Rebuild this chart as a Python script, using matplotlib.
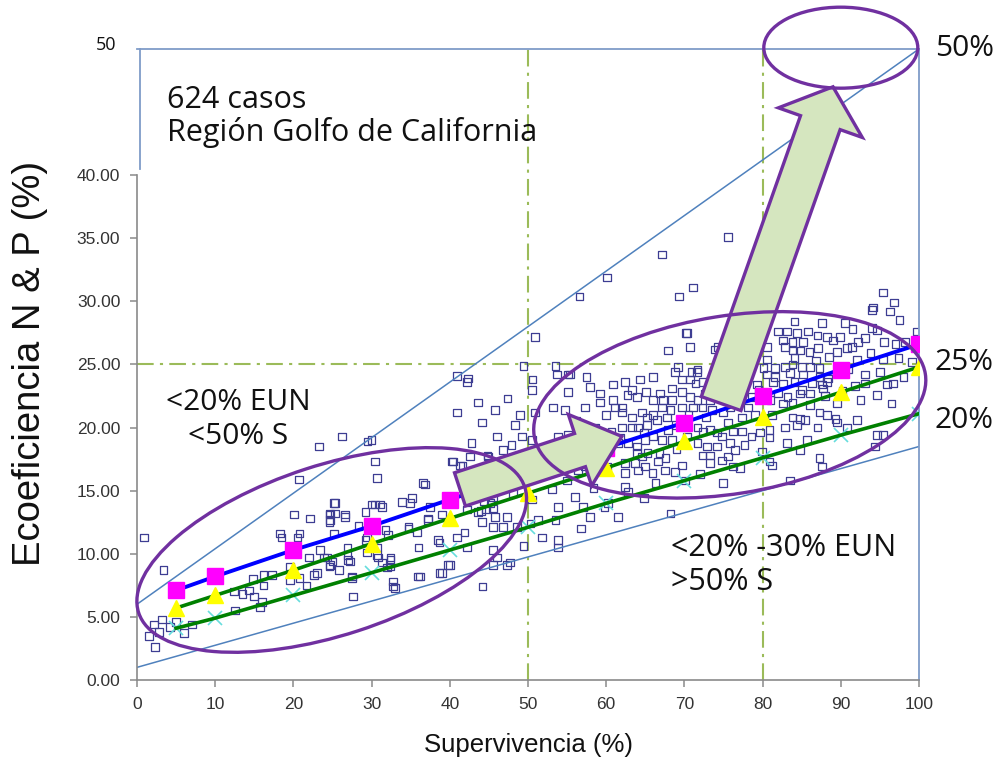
import matplotlib
matplotlib.use("Agg")
import matplotlib.pyplot as plt
import numpy as np
from matplotlib.patches import Ellipse, Polygon
from matplotlib.transforms import IdentityTransform

# ---------------- data ----------------
scatter_pts = [
    # x 0-27
    (0.9,11.3),(3.4,8.7),(2.2,4.4),(3.2,4.8),(4.2,4.2),(2.8,3.8),(6.0,3.7),(7.0,4.4),(2.3,2.6),(1.5,3.5),(5.0,4.6),
    (12.4,7.0),(12.5,5.5),(14.3,7.1),(15.0,6.6),(16.0,6.2),(15.7,5.8),(16.2,8.3),(17.3,8.3),(16.2,7.5),(19.6,7.9),
    (19.6,9.0),(20.1,13.1),(22.1,12.8),(24.6,13.1),(24.6,12.5),(25.2,14.0),(18.3,11.6),(18.5,11.3),(20.8,11.6),
    (20.5,11.3),(22.0,9.7),(23.0,8.5),(22.6,8.3),(21.7,7.5),(24.6,9.0),(23.9,9.7),(20.8,8.1),(25.2,11.6),(23.3,18.5),
    (20.7,15.9),(23.4,10.3),(24.3,9.7),(24.7,9.1),(24.7,12.7),(24.7,13.2),(13.5,6.8),(14.8,8.0),
    # x 25-50
    (26.6,13.1),(26.9,10.5),(27.0,9.5),(27.5,8.2),(27.6,6.6),(29.2,13.3),(29.4,11.3),(29.4,10.1),(30.0,13.9),
    (30.4,17.3),(30.7,16.0),(31.1,13.9),(30.8,9.7),(32.4,9.7),(32.0,8.9),(32.7,7.8),(32.7,7.4),(33.9,14.1),
    (35.2,14.4),(34.7,12.0),(35.8,11.7),(36.2,8.2),(36.6,15.6),(37.2,12.8),(39.0,13.1),(38.5,11.1),(38.7,8.5),
    (40.0,9.1),(40.4,17.3),(41.3,17.0),(40.9,11.3),(41.9,11.7),(42.2,10.5),(42.6,17.7),(44.9,17.7),(45.5,14.5),
    (44.4,14.2),(44.0,13.4),(44.6,13.5),(45.2,14.0),(45.5,10.3),(45.5,9.1),
    (42.2,23.6),(43.6,22.0),(47.4,22.3),(40.9,21.2),(45.8,21.4),(49.0,21.0),(44.1,20.4),(48.3,20.2),(26.2,19.3),
    (29.5,18.9),(30.0,19.0),(46.0,19.3),(42.8,18.8),(46.8,18.2),(47.9,18.6),(49.2,19.3),(44.8,17.8),(40.3,17.3),
    (41.6,17.0),(36.8,15.5),(42.2,16.1),(43.5,16.0),(45.8,16.2),(47.1,15.8),(43.2,15.5),(48.1,14.8),(34.9,14.0),
    (30.4,13.9),(31.3,13.7),(25.3,14.0),(25.3,13.2),(26.6,12.9),(37.5,13.7),(42.2,13.5),(43.6,13.3),(45.5,13.6),
    (45.8,12.9),(44.1,12.5),(47.3,12.9),(45.5,12.1),(46.8,12.1),(34.7,12.1),(37.2,12.7),(32.1,11.5),(29.2,11.1),
    (30.7,10.5),(38.7,10.9),(26.9,9.9),(27.2,9.4),(25.0,9.4),(30.7,9.9),(31.3,9.3),(32.4,9.5),(32.4,9.0),
    (39.8,9.1),(39.0,8.5),(46.0,9.7),(47.3,9.1),(33.0,7.3),(35.9,8.2),(27.5,8.1),(25.8,8.7),(44.2,7.4),(47.7,9.3),
    (40.9,24.1),(42.3,23.9),(49.4,24.9),(50.9,27.2),(31.8,11.9),(28.3,12.2),(36.0,10.5),(48.6,12.1),(49.4,10.6),
    (48.3,16.8),(49.5,17.6),
    # x 50-75
    (67.9,26.1),(70.7,26.4),(70.3,27.5),(74.3,26.4),(69.2,24.8),(70.9,24.4),(71.7,24.6),(69.7,23.8),(70.7,23.8),
    (71.4,23.5),(72.4,23.6),(73.7,24.0),(74.2,23.4),(68.4,23.1),(66.9,22.7),(67.3,22.2),(68.4,22.2),(69.7,22.8),
    (70.7,22.4),(71.7,22.2),(72.6,22.7),(73.3,22.2),(67.1,21.6),(68.2,21.4),(69.7,21.6),(71.1,21.6),(72.3,21.6),
    (73.5,21.4),(66.0,24.0),(64.3,23.8),(62.4,23.6),(60.9,23.4),(57.9,23.2),(57.5,24.0),(55.1,24.2),(53.7,24.2),
    (50.6,23.8),(50.5,23.0),(59.2,22.7),(60.9,22.2),(62.7,22.6),(63.3,23.0),(63.9,22.4),(55.1,22.8),(59.2,22.0),
    (57.3,21.6),(54.7,21.4),(53.2,21.6),(61.1,21.6),(62.0,21.6),(62.0,21.2),(63.3,20.8),(64.6,21.2),(65.2,20.8),
    (66.0,21.0),(66.5,20.6),(67.8,20.8),(65.2,20.2),(64.1,20.0),(63.3,20.0),(62.0,20.0),(58.6,20.0),(60.7,19.7),
    (53.8,19.3),(55.1,19.4),(50.5,19.0),(61.5,18.8),(62.8,18.8),(63.9,18.5),(65.0,19.0),(66.0,19.3),(67.1,19.0),
    (67.9,19.8),(68.4,19.0),(71.7,20.0),(72.4,19.7),(73.3,19.8),(74.2,19.6),(71.7,18.8),(72.9,18.5),(74.2,18.5),
    (72.3,17.8),(73.3,17.8),(73.3,17.2),(74.8,17.4),(63.9,18.0),(64.6,17.7),(65.3,18.0),(66.6,17.3),(63.7,17.2),
    (62.4,17.2),(64.1,16.6),(65.0,16.9),(65.9,16.4),(67.5,16.6),(68.8,16.5),(69.7,17.0),(62.4,16.4),(60.1,16.9),
    (58.2,16.4),(56.4,16.6),(55.1,17.8),(54.1,17.7),(52.2,17.6),(54.5,16.9),(62.4,15.3),(62.8,14.9),(53.1,15.1),
    (50.5,14.3),(53.8,13.7),(56.0,14.5),(57.0,13.7),(60.2,14.0),(57.9,12.9),(59.8,13.7),(53.5,12.7),(51.3,12.7),
    (51.8,11.3),(53.8,11.1),(53.8,10.5),(50.3,12.4),(68.2,13.2),(70.1,15.8),(50.9,21.2),(51.5,17.4),(54.1,18.1),
    (55.6,17.7),(57.3,16.9),
    (75.6,35.1),(67.1,33.7),(71.1,31.1),(69.3,30.4),(60.1,31.9),(56.6,30.4),(70.2,27.5),(73.9,26.2),(74.6,25.6),
    (68.8,24.4),(71.6,24.4),(53.5,24.9),(55.4,24.2),
    (58.0,18.5),(59.5,18.2),(57.0,19.6),(60.0,21.0),(56.2,20.5),(61.8,19.2),(64.8,19.6),(66.8,18.0),(68.9,20.2),
    (70.3,19.3),(70.5,21.0),(72.8,20.8),(74.0,22.7),(69.0,18.3),(67.6,17.6),(66.0,22.2),(65.1,22.8),(58.4,15.2),
    (55.0,15.8),(56.8,12.0),(61.5,12.9),(64.8,14.4),(66.3,15.6),(72.0,16.3),
    # x 75-100
    (95.4,30.7),(94.0,29.3),(96.3,29.2),(84.1,28.4),(87.6,28.3),(82.0,27.6),(83.1,27.6),(84.4,27.5),(85.8,27.6),
    (87.0,27.3),(88.2,27.2),(89.9,27.2),(94.6,27.7),(94.0,27.9),(99.7,27.6),(93.1,27.1),(92.2,26.8),(82.6,26.9),
    (83.8,26.8),(85.2,26.8),(89.0,26.9),(87.1,26.3),(89.5,26.0),(90.8,26.3),(82.9,26.4),(83.9,26.1),(84.8,26.1),
    (80.6,26.4),(77.1,26.3),(76.7,27.1),(78.1,26.0),(74.8,25.6),(80.6,25.4),(84.1,25.5),(92.1,25.4),(95.4,25.4),
    (99.1,25.2),(76.2,24.4),(78.0,24.7),(80.1,24.7),(81.6,24.7),(82.9,24.8),(83.8,25.0),(85.0,24.8),(86.1,24.8),
    (87.3,24.7),(74.9,24.0),(80.6,24.2),(81.6,24.0),(83.5,24.3),(85.2,24.2),(87.3,24.0),(88.4,23.9),(93.1,24.2),
    (95.0,24.4),(75.2,23.4),(76.7,23.2),(79.3,23.4),(81.3,23.6),(82.6,23.5),(84.1,23.6),(86.3,23.5),(87.6,23.4),
    (88.2,23.6),(93.1,23.5),(95.9,23.4),(96.7,23.5),(77.4,22.7),(78.6,22.4),(82.0,22.7),(83.2,22.4),(84.8,22.7),
    (86.1,22.7),(87.7,23.1),(94.6,22.6),(96.5,21.9),(75.2,22.4),(75.8,21.6),(78.1,21.6),(82.6,21.9),(83.8,22.0),
    (86.1,21.8),(74.9,21.2),(77.4,20.8),(79.0,21.0),(81.2,21.0),(83.8,20.8),(84.8,20.7),(87.3,21.2),(88.2,21.0),
    (89.3,20.7),(89.5,20.4),(92.1,20.6),(90.8,20.0),(87.0,20.0),(85.4,20.6),(84.4,20.2),(82.9,20.0),(75.6,20.4),
    (76.2,19.7),(77.4,19.7),(78.6,19.3),(79.7,19.6),(80.9,19.8),(80.9,19.2),(74.8,19.3),(75.8,18.8),(76.5,18.2),
    (77.7,18.6),(79.9,18.1),(83.1,18.8),(85.7,19.0),(75.6,17.7),(76.2,16.9),(77.1,16.8),(80.9,17.3),(81.2,17.0),
    (87.3,17.6),(87.6,16.9),(84.8,18.2),(94.4,18.5),(94.6,19.4),(95.4,19.4),(83.5,15.8),(74.9,15.6),(94.1,29.5),
    (76.9,26.4),(78.0,25.8),(79.0,25.8),(96.8,29.9),(97.5,28.5),(98.2,26.8),(91.5,27.8),(90.5,28.3),(86.0,26.0),
    (88.5,25.6),(91.0,24.6),(92.5,22.2),(90.2,22.9),(89.5,21.9),(98.0,24.0),(97.0,26.6),(91.4,26.4),(80.0,27.8),
    (79.5,23.0),(81.0,22.2),(85.0,23.0),(86.8,25.3),(88.0,22.5),(91.8,23.3),(93.8,25.9),(95.5,26.8),(97.4,25.5),
]
scatter_x = [p[0] for p in scatter_pts]
scatter_y = [p[1] for p in scatter_pts]

class_x = [5, 10, 20, 30, 40, 50, 60, 70, 80, 90, 100]
magenta_y = [7.1, 8.2, 10.3, 12.2, 14.3, 16.3, 18.4, 20.4, 22.5, 24.6, 26.6]
yellow_y = [5.7, 6.7, 8.7, 10.8, 12.8, 14.8, 16.8, 18.9, 20.8, 22.8, 24.8]
cyan_y = [4.1, 4.9, 6.7, 8.5, 10.3, 12.1, 14.0, 15.8, 17.6, 19.4, 21.1]

upper_ref_x = [0, 100]; upper_ref_y = [6.0, 50.0]
lower_ref_x = [0, 100]; lower_ref_y = [1.0, 18.5]

yticks = [0, 5, 10, 15, 20, 25, 30, 35, 40]
xticks = [0, 10, 20, 30, 40, 50, 60, 70, 80, 90, 100]

# ---------------- figure ----------------
fig = plt.figure(figsize=(10, 7.66), dpi=100)
ax = fig.add_axes([0.137, 0.1123, 0.782, 0.8238])
ax.set_xlim(0, 100)
ax.set_ylim(0, 50)

PURPLE = "#7030a0"
FRAME_BLUE = "#7f9cc8"
GUIDE_GREEN = "#9bbb59"

# reference guide lines
ax.plot([50, 50], [0, 50], color=GUIDE_GREEN, lw=1.5, ls=(0, (8, 3, 1.5, 3)), zorder=1.8)
ax.plot([80, 80], [0, 50], color=GUIDE_GREEN, lw=1.5, ls=(0, (8, 3, 1.5, 3)), zorder=1.8)
ax.plot([0, 100], [25, 25], color=GUIDE_GREEN, lw=1.5, ls=(0, (8, 3, 1.5, 3)), zorder=1.8)

# scatter
ax.scatter(scatter_x, scatter_y, marker="s", s=30, facecolors="none",
           edgecolors="#3d3d92", linewidths=0.9, zorder=2.2)

# thin reference lines
ax.plot(upper_ref_x, upper_ref_y, color="#4f81bd", lw=1.1, zorder=2.5)
ax.plot(lower_ref_x, lower_ref_y, color="#4f81bd", lw=1.1, zorder=2.5)

# trend series
ax.plot(class_x, cyan_y, ls="none", marker="x", ms=10, mew=1.2, color="#66dddd", zorder=3.8)
ax.plot(class_x, cyan_y, color="#008000", lw=2.6, zorder=4)
ax.plot(class_x, yellow_y, color="#008000", lw=2.6, zorder=4)
ax.plot(class_x, yellow_y, ls="none", marker="^", ms=12, color="#ffff00", mec="#ffff00", zorder=5)
ax.plot(class_x, magenta_y, color="#0000ff", lw=2.8, zorder=4.2)
ax.plot(class_x, magenta_y, ls="none", marker="s", ms=11, color="#ff00ff", mec="#ff00ff", zorder=5.2)

# axes styling
for s in ("left", "bottom"):
    ax.spines[s].set_color("#8a8a8a")
    ax.spines[s].set_linewidth(1.2)
ax.spines["left"].set_bounds(0, 40)
for s in ("top", "right"):
    ax.spines[s].set_color(FRAME_BLUE)
    ax.spines[s].set_linewidth(1.3)
ax.plot([0.4, 0.4], [40.5, 50], color=FRAME_BLUE, lw=1.3, zorder=3, clip_on=False)

ax.set_yticks(yticks)
ax.set_yticklabels([f"{v:.2f}" for v in yticks])
ax.set_xticks(xticks)
ax.set_xticklabels([str(v) for v in xticks])
ax.tick_params(axis="both", direction="out", length=5, width=1.1, color="#8a8a8a",
               labelsize=12.5, labelcolor="#333333", pad=7)
for lab in ax.get_xticklabels() + ax.get_yticklabels():
    lab.set_fontfamily("Liberation Sans")

# ---------------- annotation shapes (display space) ----------------
def disp(pt):
    return ax.transData.transform(pt)

def add_ellipse(center, w, h, angle):
    e = Ellipse(disp(center), w, h, angle=angle, transform=IdentityTransform(),
                facecolor="none", edgecolor=PURPLE, lw=2.4, zorder=6)
    fig.add_artist(e)

add_ellipse((24.9, 10.3), 406, 170, 18)
add_ellipse((75.8, 21.8), 396, 178, 9)
add_ellipse((90.0, 50.1), 154, 81, 0)

def add_arrow(p0, p1, shaft_w, head_w, head_len):
    d0 = disp(p0); d1 = disp(p1)
    v = d1 - d0
    u = v / np.hypot(*v)
    n = np.array([-u[1], u[0]])
    hb = d1 - u * head_len
    pts = [d0 + n * shaft_w / 2, hb + n * shaft_w / 2, hb + n * head_w / 2, d1,
           hb - n * head_w / 2, hb - n * shaft_w / 2, d0 - n * shaft_w / 2]
    fill = Polygon(pts, closed=True, transform=IdentityTransform(),
                   facecolor="#d5e6bf", edgecolor="none", zorder=1.5)
    edge = Polygon(pts, closed=True, transform=IdentityTransform(),
                   facecolor="none", edgecolor=PURPLE, lw=2.4, joinstyle="miter", zorder=6)
    fig.add_artist(fill)
    fig.add_artist(edge)

add_arrow((41.3, 15.1), (62.0, 19.3), 35, 75, 44)
add_arrow((74.7, 21.9), (89.0, 47.0), 42, 89, 38)

# ---------------- texts ----------------
def ftext(px, py, s, **kw):
    fig.text(px / 1000, 1 - py / 766, s, **kw)

TXT = dict(family=["Open Sans", "DejaVu Sans"], color="#111111")
ftext(167, 100, "624 casos", fontsize=22, ha="left", va="center", **TXT)
ftext(167, 133, "Región Golfo de California", fontsize=22, ha="left", va="center", **TXT)
ftext(116, 45, "50", fontsize=13, ha="right", va="center", **TXT)
ftext(935, 48, "50%", fontsize=21.5, ha="left", va="center", **TXT)
ftext(935, 362, "25%", fontsize=21.5, ha="left", va="center", **TXT)
ftext(935, 420, "20%", fontsize=21.5, ha="left", va="center", **TXT)
ftext(238, 403, "<20% EUN", fontsize=21.5, ha="center", va="center", **TXT)
ftext(238, 437, "<50% S", fontsize=21.5, ha="center", va="center", **TXT)
ftext(671, 548, "<20% -30% EUN", fontsize=22, ha="left", va="center", **TXT)
ftext(671, 582, ">50% S", fontsize=22, ha="left", va="center", **TXT)

ftext(30, 363, "Ecoeficiencia N & P (%)", fontsize=27.5, rotation=90, ha="center", va="center",
      family="Liberation Sans", color="#111111")
ftext(528, 745, "Supervivencia (%)", fontsize=18.5, ha="center", va="center",
      family="Liberation Sans", color="#111111")

fig.savefig("out.png", dpi=100)
